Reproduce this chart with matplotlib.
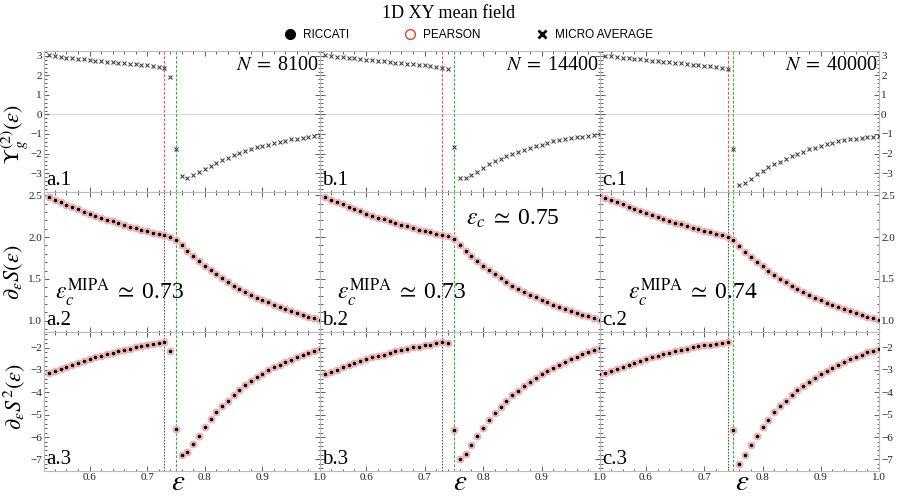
import matplotlib
matplotlib.use('Agg')
import matplotlib.pyplot as plt
from matplotlib.ticker import MultipleLocator, FuncFormatter
from matplotlib.lines import Line2D

plt.rcParams['mathtext.fontset'] = 'stix'
plt.rcParams['font.family'] = ['Liberation Serif', 'DejaVu Serif']

# ---------------- data ----------------
EPS = [0.53, 0.54, 0.55, 0.56, 0.57, 0.58, 0.59, 0.60, 0.61, 0.62, 0.63, 0.64,
       0.65, 0.66, 0.67, 0.68, 0.69, 0.70, 0.71, 0.72, 0.73, 0.74, 0.75, 0.76,
       0.77, 0.78, 0.79, 0.80, 0.81, 0.82, 0.83, 0.84, 0.85, 0.86, 0.87, 0.88,
       0.89, 0.90, 0.91, 0.92, 0.93, 0.94, 0.95, 0.96, 0.97, 0.98, 0.99, 1.00]
EPS_C = [0.52, 0.53, 0.54, 0.55, 0.56, 0.57, 0.58, 0.59, 0.60, 0.61, 0.62, 0.63,
         0.64, 0.65, 0.66, 0.67, 0.68, 0.69, 0.70, 0.71, 0.72, 0.73, 0.74, 0.75,
         0.76, 0.77, 0.78, 0.79, 0.80, 0.81, 0.82, 0.83, 0.84, 0.85, 0.86, 0.87,
         0.88, 0.89, 0.90, 0.91, 0.92, 0.93, 0.94, 0.95, 0.96, 0.97, 0.98, 0.99, 1.00]

# row 1: micro-average Upsilon_g^(2)
MICRO_A = [3.02, 2.97, 2.95, 2.91, 2.88, 2.85, 2.82, 2.80, 2.76, 2.73, 2.70, 2.67,
           2.65, 2.62, 2.59, 2.56, 2.53, 2.51, 2.48, 2.45, 2.40, 1.90, -1.75, -3.16,
           -3.26, -3.12, -2.97, -2.80, -2.64, -2.49, -2.35, -2.21, -2.09, -1.99, -1.87, -1.78,
           -1.68, -1.62, -1.55, -1.47, -1.40, -1.35, -1.28, -1.24, -1.21, -1.16, -1.11, -1.07]
MICRO_B = [3.03, 2.99, 2.96, 2.93, 2.90, 2.87, 2.84, 2.81, 2.78, 2.75, 2.72, 2.69,
           2.66, 2.63, 2.60, 2.57, 2.54, 2.51, 2.48, 2.45, 2.40, 2.33, -1.69, -3.25,
           -3.25, -3.11, -2.94, -2.75, -2.56, -2.40, -2.26, -2.14, -2.02, -1.92, -1.81, -1.71,
           -1.62, -1.54, -1.45, -1.38, -1.31, -1.26, -1.21, -1.17, -1.14, -1.11, -1.07, -1.02]
MICRO_C = [3.01, 2.97, 2.94, 2.91, 2.88, 2.85, 2.82, 2.79, 2.76, 2.73, 2.70, 2.67,
           2.64, 2.61, 2.58, 2.55, 2.52, 2.49, 2.46, 2.42, 2.38, 2.32, -1.78, -3.63,
           -3.49, -3.30, -3.07, -2.90, -2.69, -2.54, -2.42, -2.26, -2.12, -2.00, -1.92, -1.78,
           -1.71, -1.60, -1.52, -1.45, -1.38, -1.33, -1.28, -1.24, -1.21, -1.17, -1.14, -1.10]

# row 2: d_eps S
RICCATI_DS_A = [2.476, 2.444, 2.417, 2.390, 2.360, 2.333, 2.305, 2.280, 2.257, 2.233, 2.210, 2.190,
                2.170, 2.150, 2.126, 2.110, 2.090, 2.070, 2.055, 2.035, 2.020, 2.007, 1.968, 1.905,
                1.837, 1.774, 1.714, 1.658, 1.607, 1.555, 1.507, 1.460, 1.420, 1.380, 1.345, 1.310,
                1.277, 1.245, 1.218, 1.190, 1.162, 1.138, 1.114, 1.090, 1.070, 1.050, 1.030, 1.010]
RICCATI_DS_B = [2.478, 2.446, 2.418, 2.391, 2.362, 2.334, 2.307, 2.281, 2.258, 2.234, 2.211, 2.191,
                2.171, 2.150, 2.128, 2.111, 2.091, 2.072, 2.056, 2.037, 2.021, 2.008, 1.972, 1.910,
                1.840, 1.776, 1.716, 1.660, 1.608, 1.557, 1.509, 1.462, 1.421, 1.381, 1.346, 1.311,
                1.278, 1.246, 1.219, 1.191, 1.163, 1.139, 1.115, 1.091, 1.071, 1.051, 1.031, 1.013]
RICCATI_DS_C = [2.500, 2.470, 2.445, 2.418, 2.392, 2.365, 2.338, 2.312, 2.287, 2.263, 2.240, 2.217,
                2.195, 2.174, 2.153, 2.133, 2.113, 2.093, 2.074, 2.056, 2.038, 2.020, 2.003, 1.968,
                1.895, 1.828, 1.765, 1.706, 1.652, 1.600, 1.550, 1.503, 1.458, 1.418, 1.378, 1.343,
                1.309, 1.276, 1.245, 1.217, 1.190, 1.163, 1.139, 1.115, 1.092, 1.071, 1.050, 1.031, 1.012]
PEARSON_DS_A = RICCATI_DS_A
PEARSON_DS_B = RICCATI_DS_B
PEARSON_DS_C = RICCATI_DS_C

# row 3: d_eps S^2
RICCATI_DS2_A = [-3.15, -3.06, -2.97, -2.87, -2.76, -2.67, -2.60, -2.52, -2.43, -2.36, -2.30, -2.22,
                 -2.16, -2.09, -2.04, -1.98, -1.94, -1.89, -1.85, -1.80, -1.74, -2.15, -5.65, -6.81,
                 -6.68, -6.32, -5.95, -5.56, -5.21, -4.90, -4.63, -4.38, -4.14, -3.90, -3.69, -3.51,
                 -3.33, -3.17, -3.02, -2.88, -2.76, -2.64, -2.54, -2.43, -2.34, -2.25, -2.15, -2.06]
RICCATI_DS2_B = [-3.16, -3.07, -2.98, -2.88, -2.77, -2.68, -2.61, -2.53, -2.44, -2.37, -2.31, -2.23,
                 -2.17, -2.10, -2.05, -1.99, -1.95, -1.90, -1.86, -1.81, -1.75, -1.80, -5.69, -7.00,
                 -6.78, -6.36, -5.96, -5.59, -5.24, -4.94, -4.65, -4.39, -4.14, -3.93, -3.72, -3.54,
                 -3.35, -3.20, -3.05, -2.90, -2.76, -2.64, -2.51, -2.40, -2.30, -2.21, -2.10, -2.03]
RICCATI_DS2_C = [-3.20, -3.13, -3.05, -2.96, -2.86, -2.76, -2.67, -2.59, -2.51, -2.43, -2.36, -2.29,
                 -2.22, -2.16, -2.10, -2.04, -1.99, -1.94, -1.90, -1.86, -1.82, -1.78, -1.74, -5.70,
                 -7.19, -6.79, -6.36, -5.94, -5.56, -5.23, -4.90, -4.62, -4.37, -4.13, -3.90, -3.70,
                 -3.52, -3.35, -3.19, -3.04, -2.90, -2.77, -2.64, -2.52, -2.41, -2.31, -2.21, -2.13, -2.07]
PEARSON_DS2_A = RICCATI_DS2_A
PEARSON_DS2_B = RICCATI_DS2_B
PEARSON_DS2_C = RICCATI_DS2_C

N_LABELS = ['8100', '14400', '40000']
PANEL_LETTERS = ['a', 'b', 'c']
EPS_MIPA = [0.73, 0.73, 0.74]
MIPA_TEXT = ['0.73', '0.73', '0.74']
EPS_CRIT = 0.75

ROW1 = [(EPS, MICRO_A), (EPS, MICRO_B), (EPS, MICRO_C)]
ROW2 = [(EPS, RICCATI_DS_A, PEARSON_DS_A), (EPS, RICCATI_DS_B, PEARSON_DS_B),
        (EPS_C, RICCATI_DS_C, PEARSON_DS_C)]
ROW3 = [(EPS, RICCATI_DS2_A, PEARSON_DS2_A), (EPS, RICCATI_DS2_B, PEARSON_DS2_B),
        (EPS_C, RICCATI_DS2_C, PEARSON_DS2_C)]

# ---------------- layout ----------------
W, H = 897, 496
fig = plt.figure(figsize=(W / 100, H / 100), dpi=100)

col_l = [44, 320, 600]
col_r = [320, 600, 879]
row_t = [51, 192, 332]
row_b = [192, 332, 471]
ylims = [(-3.97, 3.25), (0.865, 2.54), (-7.52, -1.30)]
ymaj = [1.0, 0.5, 1.0]
ymin = [0.2, 0.1, 0.2]
yfmt = ['{:.0f}', '{:.1f}', '{:.0f}']

RED = '#ee5544'
GREEN = '#2fb52f'
GRAYD = '#555555'


def make_fmt(f):
    def _f(v, pos):
        s = f.format(v)
        if s.startswith('-'):
            s = '\u2212' + s[1:]
        if s == '\u22120':
            s = '0'
        return s
    return FuncFormatter(_f)


for i in range(3):
    for j in range(3):
        L, R = col_l[j], col_r[j]
        T, B = row_t[i], row_b[i]
        ax = fig.add_axes([L / W, (H - B) / H, (R - L) / W, (B - T) / H])
        ax.set_xlim(0.521, 1.0)
        ax.set_ylim(*ylims[i])
        ax.xaxis.set_major_locator(MultipleLocator(0.1))
        ax.xaxis.set_minor_locator(MultipleLocator(0.02))
        ax.yaxis.set_major_locator(MultipleLocator(ymaj[i]))
        ax.yaxis.set_minor_locator(MultipleLocator(ymin[i]))
        ax.xaxis.set_major_formatter(make_fmt('{:.1f}'))
        ax.yaxis.set_major_formatter(make_fmt(yfmt[i]))
        ax.tick_params(which='both', direction='in', top=True, right=True,
                       bottom=True, left=True, color='#444444', width=0.6,
                       labelsize=8, labelcolor='#222222',
                       labelleft=(j == 0), labelright=(j == 2),
                       labelbottom=(i == 2), pad=1.5)
        ax.tick_params(which='major', length=3.5)
        ax.tick_params(which='minor', length=1.8)
        for sp in ax.spines.values():
            sp.set_color('#bbbbbb')
            sp.set_linewidth(0.8)

        if i == 0:
            ax.axhline(0, color='#d9d9d9', lw=0.8, zorder=1)
            ax.axvline(EPS_MIPA[j], color=RED, lw=0.8, ls=(0, (2.5, 1.5)), zorder=2)
            ax.axvline(EPS_CRIT, color=GREEN, lw=0.8, ls=(0, (2.5, 1.5)), zorder=2)
            x, y = ROW1[j]
            ax.plot(x, y, ls='none', marker='x', ms=2.8, mew=0.75, color='#3a3a3a', zorder=3)
            ax.text(0.995, 0.965, r'$N\;=\;$' + N_LABELS[j], transform=ax.transAxes,
                    ha='right', va='top', fontsize=14.5,
                    fontfamily=['Liberation Serif'])
        else:
            ax.axvline(EPS_MIPA[j], color=GRAYD, lw=0.8, ls=(0, (1.5, 1.2)), zorder=2)
            ax.axvline(EPS_CRIT, color=GREEN, lw=0.8, ls=(0, (2.5, 1.5)), zorder=2)
            x, ric, pea = (ROW2 if i == 1 else ROW3)[j]
            ax.plot(x, pea, ls='none', marker='o', ms=5.0, mfc='#f7c6c6',
                    mec='#f0a0a0', mew=0.6, zorder=3)
            ax.plot(x, ric, ls='none', marker='o', ms=2.6, color='black', mew=0, zorder=4)

        ax.text(0.008, 0.015, PANEL_LETTERS[j] + '.' + str(i + 1), transform=ax.transAxes,
                ha='left', va='bottom', fontsize=15)

        if i == 1:
            mipa_pos = [(0.04, 0.28), (0.06, 0.28), (0.10, 0.28)][j]
            ax.text(mipa_pos[0], mipa_pos[1],
                    r'$\epsilon_c^{\mathrm{MIPA}}\;\simeq\;$' + MIPA_TEXT[j],
                    transform=ax.transAxes, ha='left', va='center', fontsize=17)
            if j == 1:
                ax.text(0.52, 0.81, r'$\epsilon_c\;\simeq\;$0.75', transform=ax.transAxes,
                        ha='left', va='center', fontsize=17)

# axis labels
ylabels = [r'$\mathrm{\Upsilon}_g^{(2)}(\epsilon)$', r'$\partial_\epsilon S(\epsilon)$',
           r'$\partial_\epsilon S^2(\epsilon)$']
ylab_y = [134, 272, 397]
for lab, yy in zip(ylabels, ylab_y):
    fig.text(14 / W, 1 - yy / H, lab, rotation=90, ha='center', va='center', fontsize=16)

for xc in [178, 460, 742]:
    fig.text(xc / W, 1 - 483 / H, r'$\epsilon$', ha='center', va='center', fontsize=21)

# title and legend
fig.text(0.5, 1 - 13 / H, '1D XY mean field', ha='center', va='center', fontsize=13)
handles = [
    Line2D([], [], ls='none', marker='o', ms=7, color='black'),
    Line2D([], [], ls='none', marker='o', ms=7, mfc='white', mec='#e8412c', mew=1.0),
    Line2D([], [], ls='none', marker='x', ms=6, mew=2.0, color='black'),
]
fig.legend(handles, ['RICCATI', 'PEARSON', 'MICRO AVERAGE'], loc='center',
           bbox_to_anchor=(468 / W, 1 - 35 / H), ncol=3, frameon=False,
           prop={'family': 'Liberation Sans', 'size': 8.5}, columnspacing=4.6,
           handletextpad=0.5, handlelength=1.2, borderpad=0)

fig.savefig('out.png', dpi=100)
